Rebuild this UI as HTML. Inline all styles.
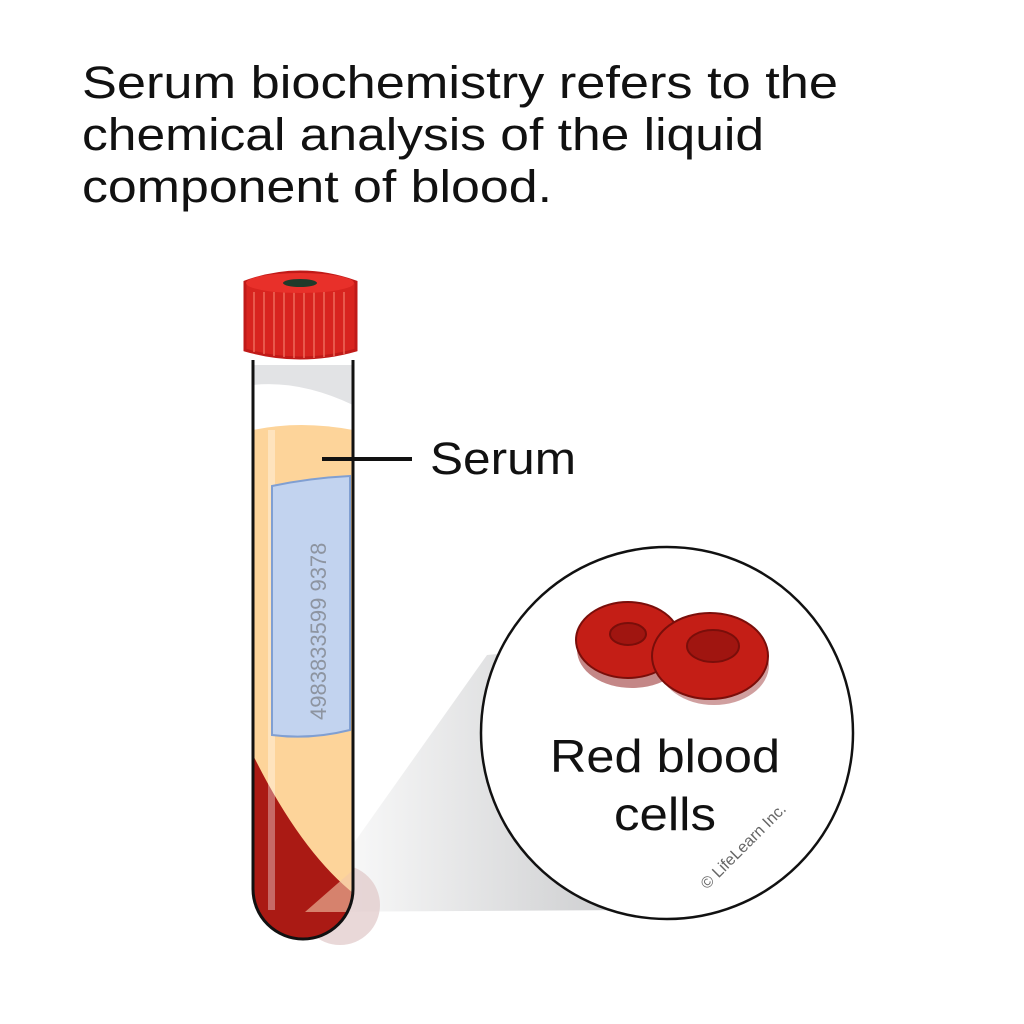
<!DOCTYPE html><html><head><style>body{margin:0;background:#fff}svg{display:block}</style></head><body>
<svg width="1024" height="1024" viewBox="0 0 1024 1024" xmlns="http://www.w3.org/2000/svg">
<defs>
<linearGradient id="cone" x1="0" y1="0" x2="1" y2="0"><stop offset="0" stop-color="#fff"/><stop offset="1" stop-color="#c9cacc"/></linearGradient>
<clipPath id="tube"><path d="M253 360 V889 A50 50 0 0 0 353 889 V360 Z"/></clipPath>
</defs>
<g font-family="Liberation Sans, sans-serif" font-size="45" fill="#111">
<text x="82" y="98" textLength="756" lengthAdjust="spacingAndGlyphs">Serum biochemistry refers to the</text>
<text x="82" y="150" textLength="682" lengthAdjust="spacingAndGlyphs">chemical analysis of the liquid</text>
<text x="82" y="202" textLength="470" lengthAdjust="spacingAndGlyphs">component of blood.</text>
</g>
<path d="M487 655 L305 912 L640 910 L640 640 Z" fill="url(#cone)"/>
<circle cx="667" cy="733" r="186" fill="#fff" stroke="#111" stroke-width="2.5"/>
<ellipse cx="340" cy="905" rx="40" ry="40" fill="#e0c8c8" opacity=".7"/>
<g clip-path="url(#tube)">
<rect x="250" y="360" width="110" height="600" fill="#fff"/>
<path d="M253 365 H353 V405 Q300 380 253 385Z" fill="#e2e3e5"/>
<path d="M253 430 Q300 420 353 430 V960 H253Z" fill="#fdd49a"/>
<path d="M253 755 Q300 850 353 893 V960 H253Z" fill="#aa1a14"/>
<path d="M305 912 L353 870 V912Z" fill="#f4c8a8" opacity=".6"/>
<rect x="268" y="430" width="7" height="480" fill="#fff" opacity=".35"/>
</g>
<path d="M253 360 V889 A50 50 0 0 0 353 889 V360" fill="none" stroke="#111" stroke-width="3"/>
<path d="M272 486 Q310 478 350 476 V730 Q310 740 272 735Z" fill="#c2d3ef" stroke="#809fd2" stroke-width="2"/>
<text transform="translate(326 720) rotate(-90)" font-family="Liberation Sans, sans-serif" font-size="22" fill="#8d94a0">4983833599 9378</text>
<path d="M245 282 Q300 262 356 282 V350 Q300 366 245 350Z" fill="#d8241f" stroke="#c01a18" stroke-width="3"/>
<g stroke="#f07060" stroke-width="2" opacity=".7">
<path d="M254 292V352M264 292V354M274 292V356M284 292V357M294 292V358M304 292V358M314 292V358M324 292V357M334 292V356M344 292V354"/></g>
<ellipse cx="300" cy="283" rx="54" ry="10" fill="#e8302a"/>
<ellipse cx="300" cy="283" rx="17" ry="4" fill="#1f3a2a"/>
<rect x="322" y="457" width="90" height="4" fill="#111"/>
<text x="430" y="474" font-family="Liberation Sans, sans-serif" font-size="45" fill="#111" textLength="146" lengthAdjust="spacingAndGlyphs">Serum</text>
<g>
<ellipse cx="632" cy="650" rx="55" ry="38" fill="#8a1010" opacity=".5"/>
<ellipse cx="628" cy="640" rx="52" ry="38" fill="#c41e16" stroke="#7a0e0a" stroke-width="2"/>
<ellipse cx="628" cy="634" rx="18" ry="11" fill="#a01510" stroke="#7a0e0a" stroke-width="2"/>
<ellipse cx="714" cy="665" rx="55" ry="40" fill="#8a1010" opacity=".4"/>
<ellipse cx="710" cy="656" rx="58" ry="43" fill="#c41e16" stroke="#7a0e0a" stroke-width="2"/>
<ellipse cx="713" cy="646" rx="26" ry="16" fill="#a01510" stroke="#7a0e0a" stroke-width="2"/>
</g>
<g font-family="Liberation Sans, sans-serif" font-size="46" fill="#111">
<text x="550" y="772" textLength="230" lengthAdjust="spacingAndGlyphs">Red blood</text><text x="614" y="830" textLength="102" lengthAdjust="spacingAndGlyphs">cells</text></g>
<text transform="translate(707 890) rotate(-45)" font-family="Liberation Sans, sans-serif" font-size="16" fill="#666">© LifeLearn Inc.</text>
</svg></body></html>
